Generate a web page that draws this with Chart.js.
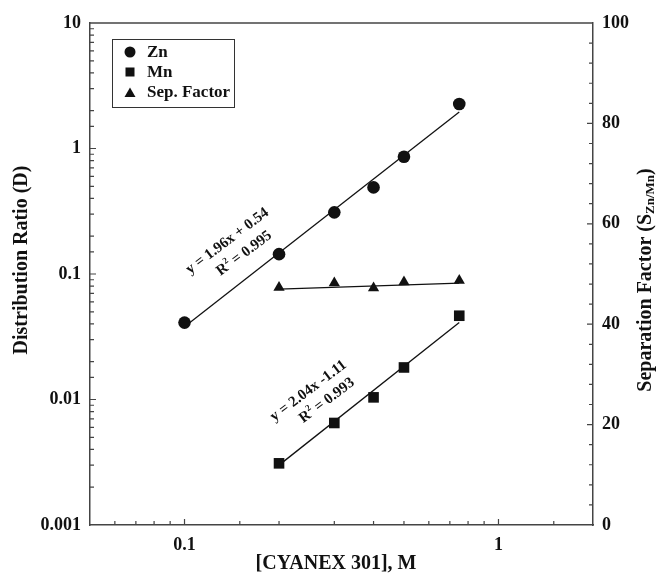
<!DOCTYPE html>
<html>
<head>
<meta charset="utf-8">
<script src="https://cdn.jsdelivr.net/npm/chart.js@4.4.1/dist/chart.umd.min.js"></script>
<style>
    html, body { margin: 0; padding: 0; background: #fff; }
    #wrap { width: 659px; height: 579px; }
</style>
</head>
<body>
<div id="wrap"><canvas id="chart" width="659" height="579"></canvas></div>
<script>
// 抽出剤濃度 [CYANEX 301] (M) と分配比
const znConc = [0.1, 0.2, 0.3, 0.4, 0.5, 0.75];
const znD = [0.041, 0.144, 0.31, 0.49, 0.86, 2.26];
const mnConc = [0.2, 0.3, 0.4, 0.5, 0.75];
const mnD = [0.0031, 0.0065, 0.0104, 0.018, 0.0465];
const sepConc = [0.2, 0.3, 0.4, 0.5, 0.75];
const sepFactor = [47.3, 48.2, 47.2, 48.4, 48.7];

// 近似直線の両端
const znFitConc = [0.1, 0.75];
const znFitD = [0.038, 1.95];
const mnFitConc = [0.2, 0.75];
const mnFitD = [0.0030, 0.041];
const sepFitConc = [0.2, 0.75];
const sepFitValue = [47.0, 48.2];

// 目盛ラベル
const xTickLabels = ['0.1', '1'];
const yTickLabels = ['0.001', '0.01', '0.1', '1', '10'];
const y2TickLabels = ['0', '20', '40', '60', '80', '100'];

const SERIF = "'Liberation Serif', 'Times New Roman', serif";
const INK = '#111';
const AXIS = '#444';

function toPoints(xs, ys) {
    return xs.map((x, i) => ({ x: x, y: ys[i] }));
}

function findLabel(list, value) {
    return list.find(l => Math.abs(Number(l) - value) <= Math.abs(value) * 1e-6 + 1e-12);
}

// 回転・上付き・下付きを含むテキスト描画
function drawRich(ctx, parts, cx, cy, angle) {
    ctx.save();
    ctx.translate(cx, cy);
    ctx.rotate(angle);
    ctx.textBaseline = 'middle';
    ctx.textAlign = 'left';
    let total = 0;
    parts.forEach(p => {
        ctx.font = `bold ${p.size}px ${SERIF}`;
        p.w = ctx.measureText(p.text).width;
        total += p.w;
    });
    let x = -total / 2;
    parts.forEach(p => {
        ctx.font = `bold ${p.size}px ${SERIF}`;
        ctx.fillText(p.text, x, p.dy || 0);
        x += p.w;
    });
    ctx.restore();
}

const decorPlugin = {
    id: 'decor',
    afterDraw(chart) {
        const ctx = chart.ctx;
        const a = chart.chartArea;
        const sx = chart.scales.x, sy = chart.scales.y, sy2 = chart.scales.y2;
        ctx.save();
        ctx.fillStyle = INK;

        // 上枠
        ctx.strokeStyle = AXIS;
        ctx.lineWidth = 1.5;
        ctx.beginPath();
        ctx.moveTo(a.left, a.top);
        ctx.lineTo(a.right, a.top);
        ctx.stroke();

        // 内向きの目盛
        ctx.lineWidth = 1.2;
        ctx.beginPath();
        sx.ticks.forEach(t => {
            const px = sx.getPixelForValue(t.value);
            if (px <= a.left + 1 || px >= a.right - 1) return;
            const len = findLabel(xTickLabels, t.value) ? 6 : 4;
            ctx.moveTo(px, a.bottom);
            ctx.lineTo(px, a.bottom - len);
        });
        sy.ticks.forEach(t => {
            const py = sy.getPixelForValue(t.value);
            if (py <= a.top + 1 || py >= a.bottom - 1) return;
            const len = findLabel(yTickLabels, t.value) ? 6 : 4;
            ctx.moveTo(a.left, py);
            ctx.lineTo(a.left + len, py);
        });
        sy2.ticks.forEach(t => {
            const py = sy2.getPixelForValue(t.value);
            if (py <= a.top + 1 || py >= a.bottom - 1) return;
            const len = findLabel(y2TickLabels, t.value) ? 6 : 4;
            ctx.moveTo(a.right, py);
            ctx.lineTo(a.right - len, py);
        });
        ctx.stroke();

        // 凡例
        ctx.strokeStyle = '#333';
        ctx.lineWidth = 1;
        ctx.strokeRect(112.5, 39.5, 122, 68);
        const mx = 130;
        ctx.beginPath();
        ctx.arc(mx, 52, 5.5, 0, Math.PI * 2);
        ctx.fill();
        ctx.fillRect(mx - 4.5, 67.5, 9, 9);
        ctx.beginPath();
        ctx.moveTo(mx, 87.5);
        ctx.lineTo(mx + 5.5, 97);
        ctx.lineTo(mx - 5.5, 97);
        ctx.closePath();
        ctx.fill();
        ctx.font = `bold 17px ${SERIF}`;
        ctx.textAlign = 'left';
        ctx.textBaseline = 'middle';
        ctx.fillText('Zn', 147, 53);
        ctx.fillText('Mn', 147, 73);
        ctx.fillText('Sep. Factor', 147, 93);

        // 近似式
        const ang = -37 * Math.PI / 180;
        drawRich(ctx, [{ text: 'y = 1.96x + 0.54', size: 15 }],
            sx.getPixelForValue(0.137), sy.getPixelForValue(0.183), ang);
        drawRich(ctx, [{ text: 'R', size: 15 }, { text: '2', size: 9, dy: -5 }, { text: ' = 0.995', size: 15 }],
            sx.getPixelForValue(0.155), sy.getPixelForValue(0.146), ang);
        drawRich(ctx, [{ text: 'y = 2.04x -1.11', size: 15 }],
            sx.getPixelForValue(0.248), sy.getPixelForValue(0.0117), ang);
        drawRich(ctx, [{ text: 'R', size: 15 }, { text: '2', size: 9, dy: -5 }, { text: ' = 0.993', size: 15 }],
            sx.getPixelForValue(0.284), sy.getPixelForValue(0.0098), ang);

        // 軸タイトル
        drawRich(ctx, [{ text: '[CYANEX 301], M', size: 20 }], 336, 564, 0);
        drawRich(ctx, [{ text: 'Distribution Ratio (D)', size: 20 }], 22, 260, -Math.PI / 2);
        drawRich(ctx, [
            { text: 'Separation Factor (S', size: 20 },
            { text: 'Zn/Mn', size: 13, dy: 5 },
            { text: ')', size: 20 }
        ], 646, 280, -Math.PI / 2);
        ctx.restore();
    }
};

const tickFont = { family: SERIF, size: 18, weight: 'bold' };

new Chart(document.getElementById('chart'), {
    type: 'scatter',
    data: {
        datasets: [
            { label: 'Zn', data: toPoints(znConc, znD), yAxisID: 'y', pointStyle: 'circle', pointRadius: 6.3, backgroundColor: INK, borderColor: INK, borderWidth: 0 },
            { label: 'Mn', data: toPoints(mnConc, mnD), yAxisID: 'y', pointStyle: 'rect', pointRadius: 7.5, backgroundColor: INK, borderColor: INK, borderWidth: 0 },
            { label: 'Sep. Factor', data: toPoints(sepConc, sepFactor), yAxisID: 'y2', pointStyle: 'triangle', pointRadius: 6.5, backgroundColor: INK, borderColor: INK, borderWidth: 0 },
            { label: 'Zn fit', data: toPoints(znFitConc, znFitD), yAxisID: 'y', showLine: true, pointRadius: 0, borderColor: INK, borderWidth: 1.3 },
            { label: 'Mn fit', data: toPoints(mnFitConc, mnFitD), yAxisID: 'y', showLine: true, pointRadius: 0, borderColor: INK, borderWidth: 1.3 },
            { label: 'Sep fit', data: toPoints(sepFitConc, sepFitValue), yAxisID: 'y2', showLine: true, pointRadius: 0, borderColor: INK, borderWidth: 1.3 }
        ]
    },
    options: {
        responsive: false,
        animation: false,
        layout: { padding: { top: 23, left: 0, right: 0, bottom: 0 } },
        plugins: {
            legend: { display: false },
            tooltip: { enabled: false }
        },
        scales: {
            x: {
                type: 'logarithmic',
                min: 0.05,
                max: 2,
                grid: { drawOnChartArea: false, drawTicks: false },
                border: { display: true, color: AXIS, width: 1.5 },
                ticks: {
                    autoSkip: false,
                    maxRotation: 0,
                    padding: 10,
                    color: INK,
                    font: tickFont,
                    callback: (v) => findLabel(xTickLabels, v) || ''
                },
                afterFit: (scale) => { scale.height = 54; }
            },
            y: {
                type: 'logarithmic',
                position: 'left',
                min: 0.001,
                max: 10,
                grid: { drawOnChartArea: false, drawTicks: false },
                border: { display: true, color: AXIS, width: 1.5 },
                ticks: {
                    autoSkip: false,
                    padding: 9,
                    color: INK,
                    font: tickFont,
                    callback: (v) => findLabel(yTickLabels, v) || ''
                },
                afterFit: (scale) => { scale.width = 90; }
            },
            y2: {
                type: 'linear',
                position: 'right',
                min: 0,
                max: 100,
                grid: { drawOnChartArea: false, drawTicks: false },
                border: { display: true, color: AXIS, width: 1.5 },
                ticks: {
                    stepSize: 4,
                    autoSkip: false,
                    padding: 9,
                    color: INK,
                    font: tickFont,
                    callback: (v) => findLabel(y2TickLabels, v) || ''
                },
                afterFit: (scale) => { scale.width = 66; }
            }
        }
    },
    plugins: [decorPlugin]
});
</script>
</body>
</html>
